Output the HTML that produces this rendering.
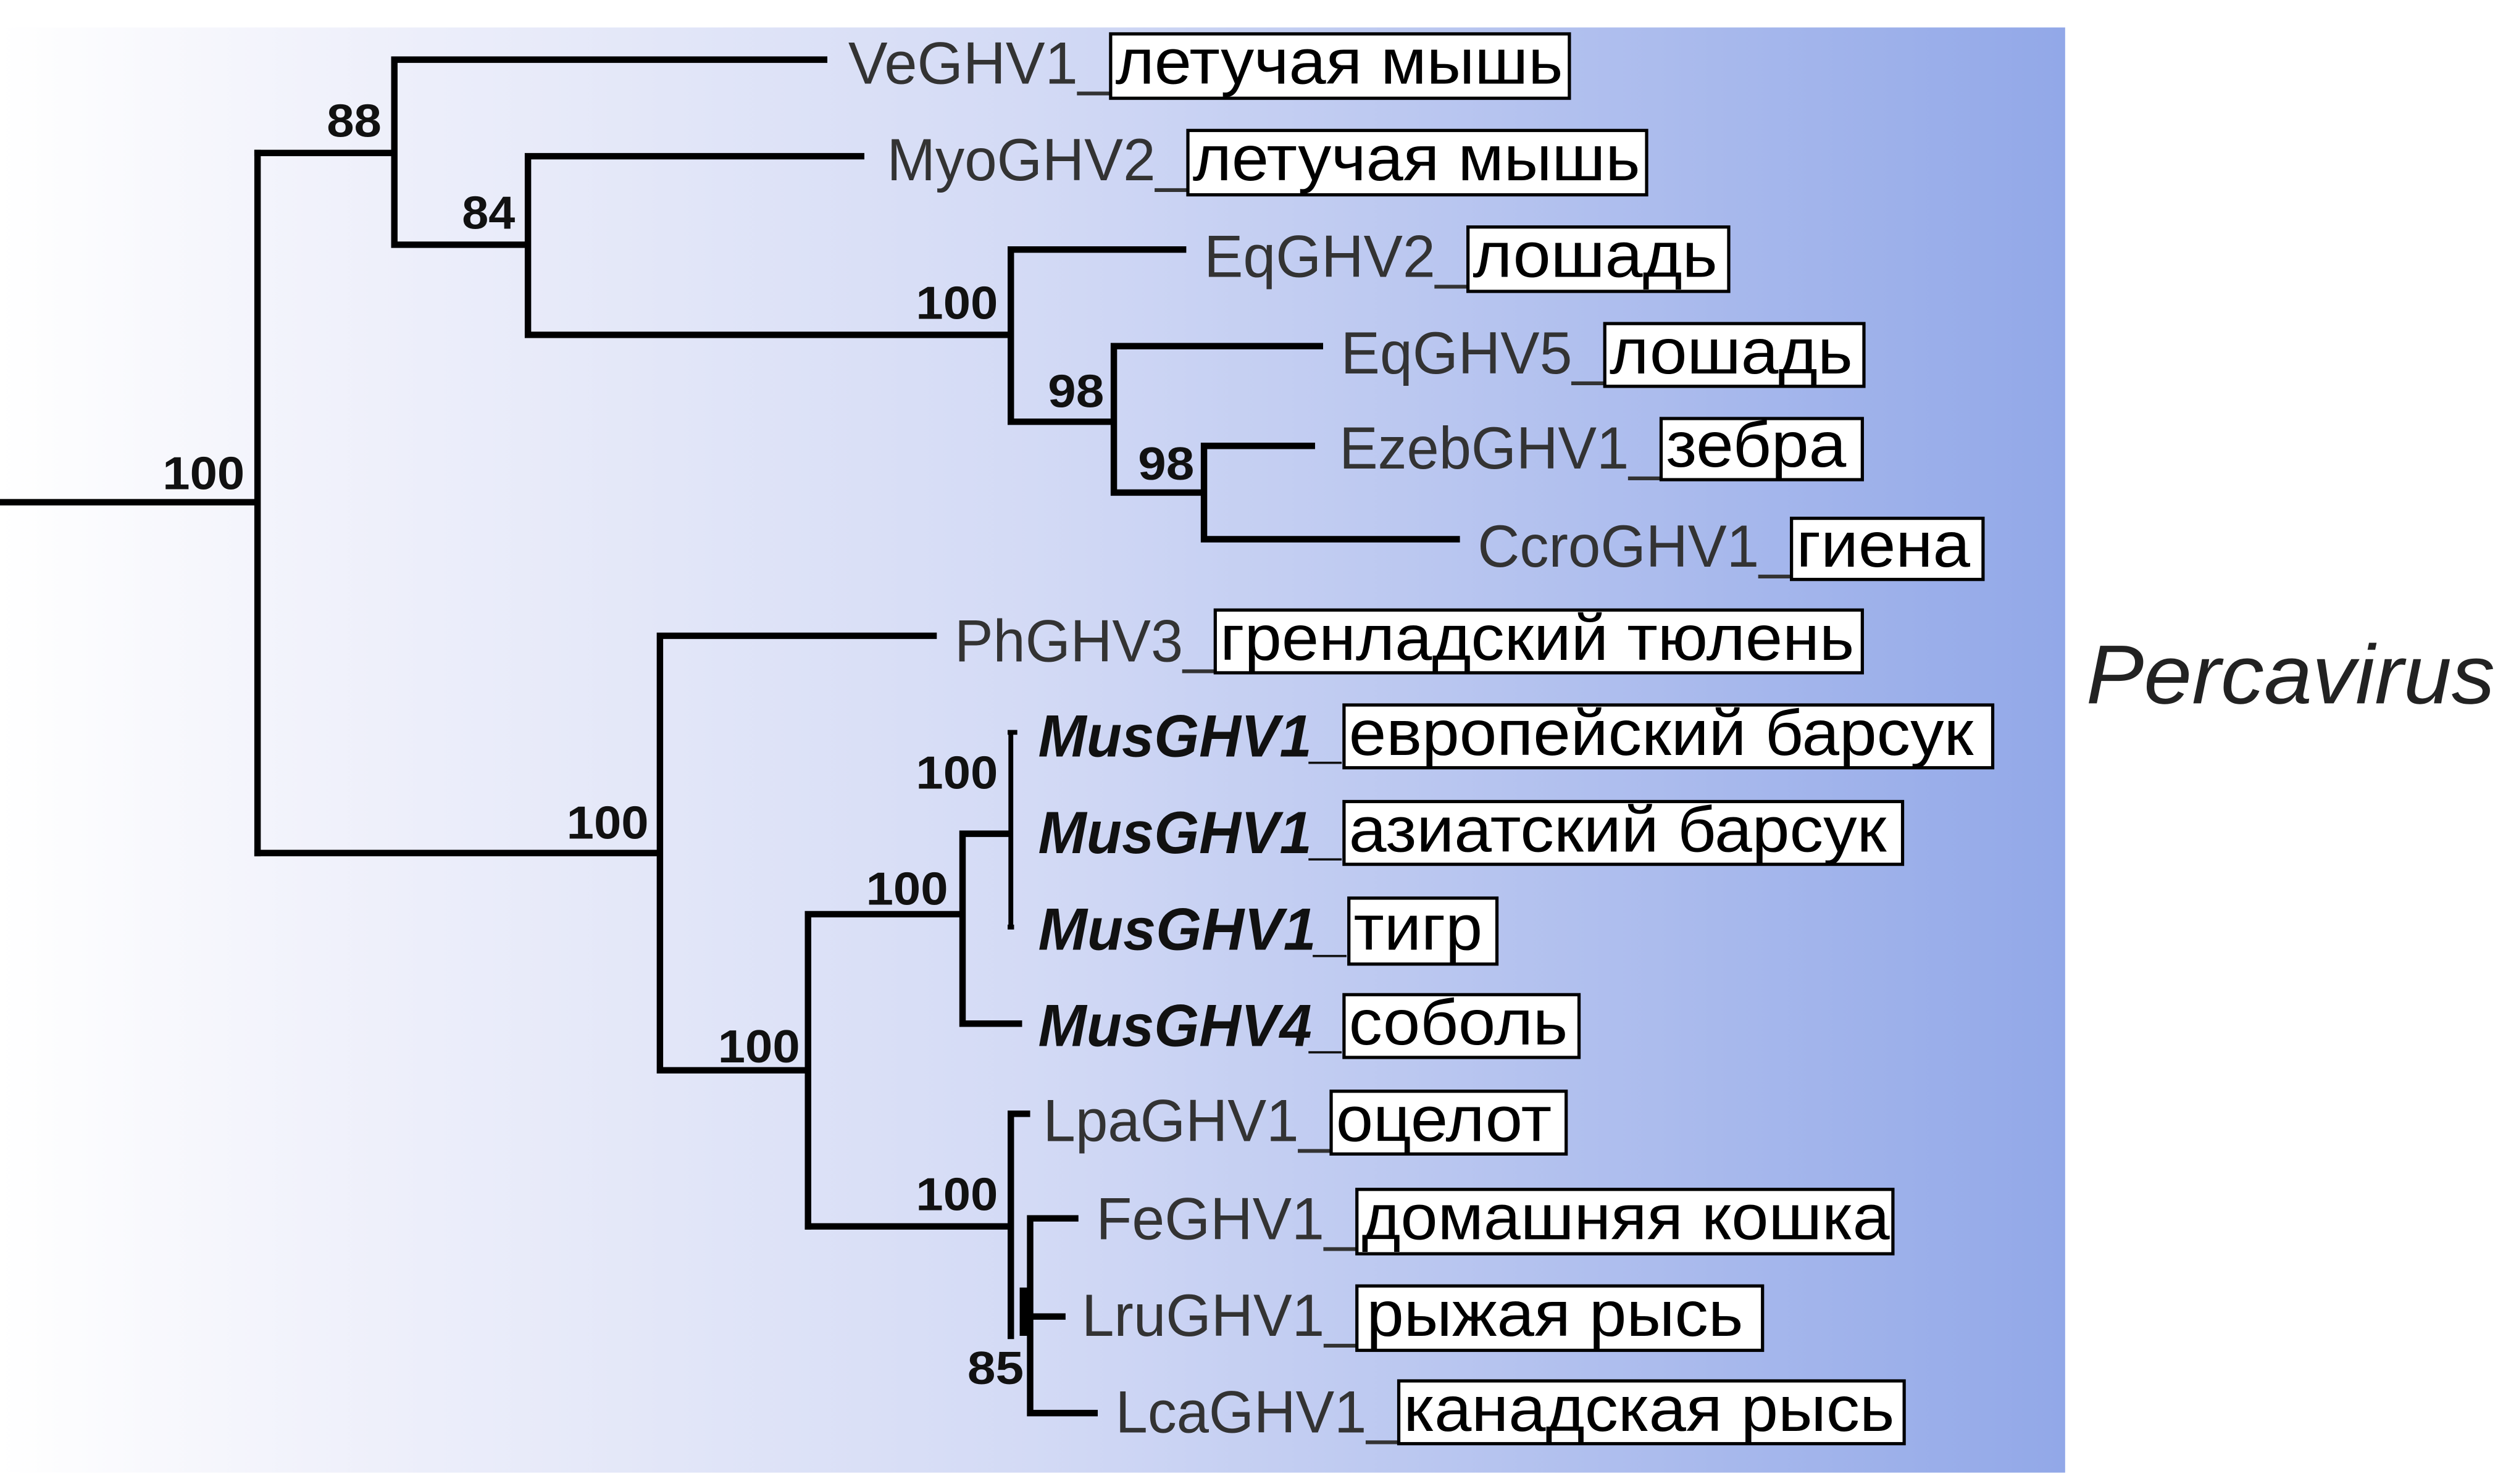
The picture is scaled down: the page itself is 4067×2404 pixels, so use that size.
<!DOCTYPE html>
<html><head><meta charset="utf-8"><style>html,body{margin:0;padding:0;background:#fff}svg{display:block}</style></head>
<body>
<svg width="4067" height="2404" viewBox="0 0 1560 922" xmlns="http://www.w3.org/2000/svg">
<defs><linearGradient id="g" x1="0" x2="1" y1="0" y2="0">
<stop offset="0" stop-color="#ffffff"/><stop offset="0.15" stop-color="#f1f2fb"/><stop offset="0.5" stop-color="#d3daf5"/><stop offset="1" stop-color="#92a8e8"/></linearGradient></defs>
<rect x="0" y="0" width="1560" height="922" fill="#fff"/>
<rect x="0" y="17" width="1283" height="898" fill="url(#g)"/>
<g stroke="#000" stroke-width="4" fill="none" stroke-linecap="square">
<path d="M0 312H160M160 95V530"/>
<path d="M160 95H245M245 37V152M245 37H512M245 152H328M328 97V208M328 97H535M328 208H628M628 155V262M628 155H735M628 262H692M692 215V306M692 215H820M692 306H748M748 277V335M748 277H815M748 335H905"/>
<path d="M160 530H410M410 395V665M410 395H580M410 665H502M502 568V762M502 568H598M598 518V636M598 636H633M598 518H626"/>
<path d="M502 762H628M628 692V830M628 692H638"/>
<path d="M640 757V878M640 757H668M640 818H660M640 878H680"/>
</g>
<path d="M628 455V576" stroke="#000" stroke-width="3"/>
<path d="M626 455H632M626 576H630" stroke="#000" stroke-width="3"/>
<path d="M636 800V830" stroke="#000" stroke-width="5"/>
<g font-family="Liberation Sans, sans-serif" font-weight="bold" font-size="29" fill="#111" lengthAdjust="spacingAndGlyphs">
<text x="203" y="85" textLength="34" lengthAdjust="spacingAndGlyphs">88</text>
<text x="287" y="142" textLength="33" lengthAdjust="spacingAndGlyphs">84</text>
<text x="569" y="198" textLength="51" lengthAdjust="spacingAndGlyphs">100</text>
<text x="651" y="253" textLength="35" lengthAdjust="spacingAndGlyphs">98</text>
<text x="707" y="298" textLength="35" lengthAdjust="spacingAndGlyphs">98</text>
<text x="101" y="304" textLength="51" lengthAdjust="spacingAndGlyphs">100</text>
<text x="352" y="521" textLength="51" lengthAdjust="spacingAndGlyphs">100</text>
<text x="569" y="490" textLength="51" lengthAdjust="spacingAndGlyphs">100</text>
<text x="538" y="562" textLength="51" lengthAdjust="spacingAndGlyphs">100</text>
<text x="446" y="660" textLength="51" lengthAdjust="spacingAndGlyphs">100</text>
<text x="569" y="752" textLength="51" lengthAdjust="spacingAndGlyphs">100</text>
<text x="601" y="860" textLength="35" lengthAdjust="spacingAndGlyphs">85</text>
</g>
<g font-family="Liberation Sans, sans-serif" font-size="37" fill="#333">
<text x="527" y="52" textLength="163" lengthAdjust="spacingAndGlyphs">VeGHV1_</text>
<text x="551" y="112" textLength="187" lengthAdjust="spacingAndGlyphs">MyoGHV2_</text>
<text x="748" y="172" textLength="164" lengthAdjust="spacingAndGlyphs">EqGHV2_</text>
<text x="833" y="232" textLength="164" lengthAdjust="spacingAndGlyphs">EqGHV5_</text>
<text x="832" y="291" textLength="200" lengthAdjust="spacingAndGlyphs">EzebGHV1_</text>
<text x="918" y="352" textLength="195" lengthAdjust="spacingAndGlyphs">CcroGHV1_</text>
<text x="593" y="411" textLength="162" lengthAdjust="spacingAndGlyphs">PhGHV3_</text>
<text x="648" y="709" textLength="179" lengthAdjust="spacingAndGlyphs">LpaGHV1_</text>
<text x="681" y="770" textLength="162" lengthAdjust="spacingAndGlyphs">FeGHV1_</text>
<text x="672" y="830" textLength="171" lengthAdjust="spacingAndGlyphs">LruGHV1_</text>
<text x="693" y="890" textLength="176" lengthAdjust="spacingAndGlyphs">LcaGHV1_</text>
</g>
<g font-family="Liberation Sans, sans-serif" font-size="37" font-weight="bold" font-style="italic" fill="#111">
<text x="645" y="470" textLength="190" lengthAdjust="spacingAndGlyphs">MusGHV1_</text>
<text x="645" y="530" textLength="190" lengthAdjust="spacingAndGlyphs">MusGHV1_</text>
<text x="645" y="590" textLength="193" lengthAdjust="spacingAndGlyphs">MusGHV1_</text>
<text x="645" y="650" textLength="190" lengthAdjust="spacingAndGlyphs">MusGHV4_</text>
</g>
<g fill="#fff" stroke="#000" stroke-width="2">
<rect x="690" y="21" width="285" height="40"/>
<rect x="738" y="81" width="285" height="40"/>
<rect x="912" y="141" width="162" height="40"/>
<rect x="997" y="201" width="161" height="39"/>
<rect x="1032" y="260" width="125" height="38"/>
<rect x="1113" y="322" width="119" height="38"/>
<rect x="755" y="379" width="402" height="39"/>
<rect x="835" y="438" width="403" height="39"/>
<rect x="835" y="498" width="347" height="39"/>
<rect x="838" y="558" width="92" height="41"/>
<rect x="835" y="618" width="146" height="39"/>
<rect x="827" y="678" width="146" height="39"/>
<rect x="843" y="739" width="333" height="40"/>
<rect x="843" y="799" width="252" height="40"/>
<rect x="869" y="858" width="314" height="39"/>
</g>
<g font-family="Liberation Sans, sans-serif" font-size="40" fill="#000">
<text x="693" y="52" textLength="278" lengthAdjust="spacingAndGlyphs">летучая мышь</text>
<text x="741" y="112" textLength="278" lengthAdjust="spacingAndGlyphs">летучая мышь</text>
<text x="915" y="172" textLength="152" lengthAdjust="spacingAndGlyphs">лошадь</text>
<text x="1000" y="232" textLength="151" lengthAdjust="spacingAndGlyphs">лошадь</text>
<text x="1035" y="290" textLength="112" lengthAdjust="spacingAndGlyphs">зебра</text>
<text x="1116" y="352" textLength="108" lengthAdjust="spacingAndGlyphs">гиена</text>
<text x="758" y="410" textLength="394" lengthAdjust="spacingAndGlyphs">гренладский тюлень</text>
<text x="838" y="469" textLength="388" lengthAdjust="spacingAndGlyphs">европейский барсук</text>
<text x="838" y="529" textLength="334" lengthAdjust="spacingAndGlyphs">азиатский барсук</text>
<text x="841" y="590" textLength="80" lengthAdjust="spacingAndGlyphs">тигр</text>
<text x="838" y="649" textLength="136" lengthAdjust="spacingAndGlyphs">соболь</text>
<text x="830" y="709" textLength="134" lengthAdjust="spacingAndGlyphs">оцелот</text>
<text x="846" y="770" textLength="328" lengthAdjust="spacingAndGlyphs">домашняя кошка</text>
<text x="849" y="830" textLength="234" lengthAdjust="spacingAndGlyphs">рыжая рысь</text>
<text x="872" y="889" textLength="305" lengthAdjust="spacingAndGlyphs">канадская рысь</text>
</g>
<text x="1296" y="437" font-family="Liberation Sans, sans-serif" font-size="52" font-style="italic" fill="#222" textLength="254" lengthAdjust="spacingAndGlyphs">Percavirus</text>
</svg>
</body></html>
